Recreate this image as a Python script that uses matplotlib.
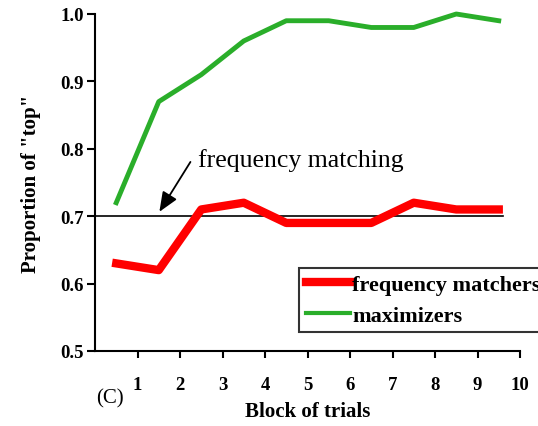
import matplotlib
matplotlib.use("Agg")
from matplotlib import pyplot as plt

# blocks are plotted between the tick marks
blocks = [0.5, 1.5, 2.5, 3.5, 4.5, 5.5, 6.5, 7.5, 8.5, 9.5]
freq_matchers = [0.63, 0.62, 0.71, 0.72, 0.69, 0.69, 0.69, 0.72, 0.71, 0.71]
maximizers = [0.72, 0.87, 0.91, 0.96, 0.99, 0.99, 0.98, 0.98, 1.00, 0.99]
x_ticks = [1, 2, 3, 4, 5, 6, 7, 8, 9, 10]
y_ticks = [0.5, 0.6, 0.7, 0.8, 0.9, 1.0]
matching_level = 0.70

plt.rcParams['font.family'] = ['Liberation Serif', 'DejaVu Serif']

fig = plt.figure(figsize=(5.38, 4.27), dpi=100)
ax = fig.add_axes([95/538, 1 - 352/427, (520 - 95)/538, (352 - 15)/427])

ax.plot([0, 9.6], [matching_level, matching_level], color='black', lw=1.2)
red, = ax.plot(blocks, freq_matchers, color='#ff0000', lw=6, clip_on=False)
green, = ax.plot(blocks, maximizers, color='#2aae2a', lw=3.5, clip_on=False)

ax.set_xlim(0, 10)
ax.set_ylim(0.5, 1.0)
ax.set_xticks(x_ticks)
ax.set_yticks(y_ticks)
ax.set_yticklabels(['%.1f' % v for v in y_ticks], fontweight='bold', fontsize=13.5)
ax.set_xticklabels([str(v) for v in x_ticks], fontweight='bold', fontsize=13.5)
ax.tick_params(axis='x', direction='out', length=5, width=1.5, pad=13)
ax.tick_params(axis='y', direction='out', length=6, width=1.5, pad=2)
for s in ['top', 'right']:
    ax.spines[s].set_visible(False)
for s in ['left', 'bottom']:
    ax.spines[s].set_linewidth(1.5)

ax.set_ylabel('Proportion of "top"', fontweight='bold', fontsize=15, labelpad=14)
ax.set_xlabel('Block of trials', fontweight='bold', fontsize=15, labelpad=6)

ax.annotate('', xy=(1.48, 0.703), xytext=(2.28, 0.784),
            arrowprops=dict(arrowstyle='-|>,head_length=1.2,head_width=0.5', color='black', lw=1.3))
ax.text(2.42, 0.784, 'frequency matching', fontsize=18.5, va='center', ha='left')

fig.text(110/538, 1 - 399/427, '(C)', fontsize=15, ha='center', va='center')

leg = fig.legend([red, green], ['frequency matchers', 'maximizers'],
                 loc='upper left', bbox_to_anchor=(299/538, 1 - 269/427),
                 prop={'weight': 'bold', 'size': 16}, fancybox=False, frameon=True,
                 borderpad=0.3, handlelength=2.0, handletextpad=0.1, labelspacing=0.45,
                 borderaxespad=0)
leg.get_frame().set_edgecolor('black')
leg.get_frame().set_linewidth(1.5)
leg.legend_handles[1].set_linewidth(3)

fig.savefig('out.png', dpi=100)
